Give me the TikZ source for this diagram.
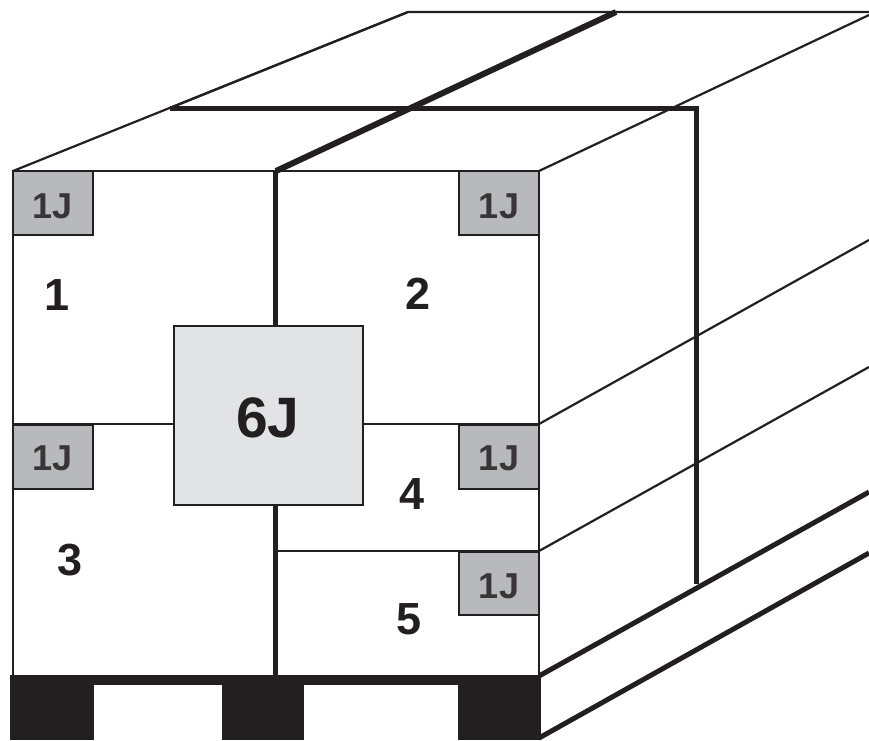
\documentclass[tikz,border=0pt]{standalone}
\usepackage{fontspec}
\setmainfont{Liberation Sans}
\definecolor{ink}{HTML}{231F20}
\definecolor{smallgrey}{HTML}{B8B9BC}
\definecolor{biggrey}{HTML}{E2E3E5}
\begin{document}
\begin{tikzpicture}[x=1pt,y=-1pt,
 thinline/.style={draw=ink,line width=2.2pt},
 strap/.style={draw=ink,line width=5pt},
 smallbox/.style={fill=smallgrey,draw=ink,line width=2.2pt},
 smalltext/.style={font=\bfseries\fontsize{36}{36}\selectfont,text=ink!90},
 num/.style={font=\bfseries\fontsize{45}{45}\selectfont,text=ink}]
\useasboundingbox (0,0) rectangle (869,740);
% top face
\draw[thinline] (13,171) -- (408,12) -- (869,12);
\draw[thinline] (539,171) -- (869,15);
\draw[thinline] (170,108) -- (408,12);
\draw[thinline] (13,171) -- (539,171) -- (539,675);
\draw[thinline] (13,171) -- (13,675);
% straps
\draw[strap] (170,108) -- (696,108) -- (696,584);
\draw[strap,line width=6pt] (276,171) -- (616,12);
\draw[strap] (275,171) -- (275,326);
\draw[strap] (275,505) -- (275,676);
% box divisions
\draw[thinline] (13,424) -- (174,424);
\draw[thinline] (363,424) -- (539,424);
\draw[thinline] (275,551) -- (539,551);
\draw[thinline] (539,424) -- (869,240);
\draw[thinline] (539,551) -- (869,367);
% pallet
\draw[strap] (539,676) -- (869,492);
\draw[strap] (539,738) -- (869,553);
\fill[ink] (10,675) rectangle (541,740);
\fill[white] (94,685) rectangle (222,740);
\fill[white] (304,685) rectangle (458,740);
% labels
\path[smallbox] (13,171) rectangle (93,235);
\node[smalltext] (t1) at (53,206) {1J};
\path[smallbox] (459,171) rectangle (539,235);
\node[smalltext] (t2) at (499,206) {1J};
\path[smallbox] (13,425) rectangle (93,489);
\node[smalltext] (t3) at (53,458) {1J};
\path[smallbox] (459,425) rectangle (539,489);
\node[smalltext] (t4) at (499,458) {1J};
\path[smallbox] (459,552) rectangle (539,615);
\node[smalltext] (t5) at (499,586) {1J};
\path[fill=biggrey,draw=ink,line width=2.2pt] (174,326) rectangle (363,505);
\node[font=\bfseries\fontsize{57}{57}\selectfont,text=ink] (six) at (268,418) {6J};
\node[num] (n1) at (57,295) {1};
\node[num] (n2) at (418,294) {2};
\node[num] (n3) at (70,560) {3};
\node[num] (n4) at (412,494) {4};
\node[num] (n5) at (409,619) {5};
\end{tikzpicture}
\end{document}
